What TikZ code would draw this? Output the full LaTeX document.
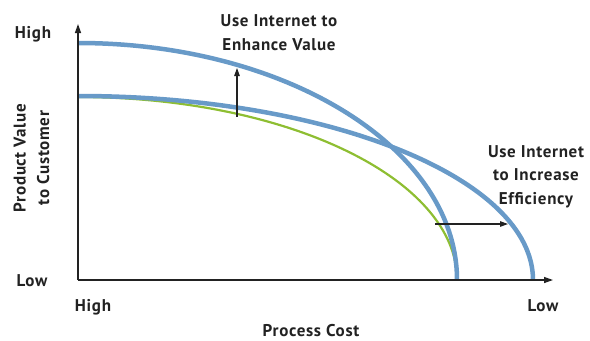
\documentclass[tikz,border=0pt]{standalone}
\usepackage{fontspec}
\setmainfont{PT Sans}[LetterSpace=4]
\usetikzlibrary{arrows.meta}
\definecolor{curveblue}{RGB}{104,154,200}
\definecolor{curvegreen}{RGB}{142,190,50}
\definecolor{axisgray}{RGB}{34,34,34}
\tikzset{
  axis/.style={draw=axisgray, line width=1.3bp, -{Triangle[length=9bp,width=6bp]}},
  bluecurve/.style={draw=curveblue, line width=4.5bp},
  greencurve/.style={draw=curvegreen, line width=2.2bp},
  shift arrow/.style={draw=axisgray, line width=1.1bp, -{Triangle[length=8bp,width=5.5bp]}},
  lbl/.style={font=\fontsize{17bp}{23.5bp}\selectfont\bfseries, text=axisgray, inner sep=0pt, align=center},
}
\begin{document}
\begin{tikzpicture}[x=1bp,y=-1bp]
\useasboundingbox (0,0) rectangle (590,340);
\coordinate (O) at (78,280);
\coordinate (ytop) at (78,24);
\coordinate (xend) at (553,280);
% curves
\draw[greencurve] (78,97) arc[start angle=-90, end angle=0, x radius=379, y radius=183];
\draw[bluecurve] (78,96) arc[start angle=-90, end angle=0, x radius=455, y radius=184];
\draw[bluecurve] (78,43) arc[start angle=-90, end angle=0, x radius=379, y radius=237];
% axes
\draw[axis] (O) -- (ytop);
\draw[axis] (O) -- (xend);
% shift arrows
\coordinate (va) at (237,117);
\coordinate (vb) at (237,68);
\coordinate (ha) at (435,224);
\coordinate (hb) at (508,224);
\draw[shift arrow] (va) -- (vb);
\draw[shift arrow] (ha) -- (hb);
% labels
\node[lbl, anchor=base] (yhigh) at (33,38) {High};
\node[lbl, anchor=base] (ylow) at (32,286) {Low};
\node[lbl, anchor=base] (xhigh) at (93,311) {High};
\node[lbl, anchor=base] (xlow) at (543,311) {Low};
\node[lbl, anchor=base] (xtitle) at (311,336) {Process Cost};
\node[lbl, rotate=90, anchor=base] (ytitle) at (49,158) {Product Value\\to Customer};
\node[lbl, anchor=base] (enh) at (279,50) {Use Internet to\\Enhance Value};
\node[lbl, anchor=base] (eff) at (536,204) {Use Internet\\to Increase\\Efficiency};
\end{tikzpicture}
\end{document}
